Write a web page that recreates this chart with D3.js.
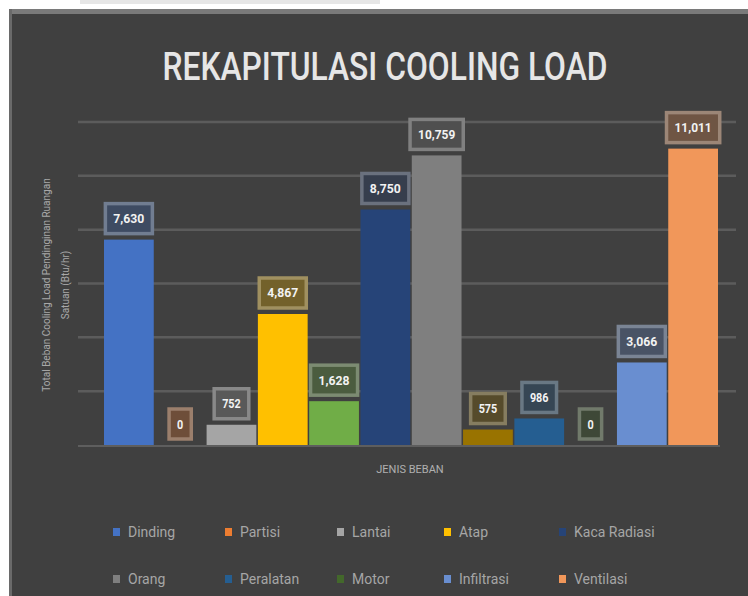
<!DOCTYPE html>
<html><head><meta charset="utf-8">
<script src="https://cdn.jsdelivr.net/npm/d3@7"></script>
<style>
html,body{margin:0;padding:0;background:#fff;}
svg{display:block;}
</style></head>
<body>
<svg id="chart" width="748" height="596"></svg>
<script>
// ---- data ----
const seriesNames = ["Dinding","Partisi","Lantai","Atap","Kaca Konduksi","Kaca Radiasi","Orang","Penerangan","Peralatan","Motor","Infiltrasi","Ventilasi"];
const seriesValues = [7630, 0, 752, 4867, 1628, 8750, 10759, 575, 986, 0, 3066, 11011];
const valueLabels = ["7,630","0","752","4,867","1,628","8,750","10,759","575","986","0","3,066","11,011"];
const seriesColors = ["#4472C4","#ED7D31","#A5A5A5","#FFC000","#70AD47","#264478","#7F7F7F","#997300","#255E91","#43682B","#698ED0","#F1975A"];
const legendNames = ["Dinding","Partisi","Lantai","Atap","Kaca Radiasi","Orang","Peralatan","Motor","Infiltrasi","Ventilasi"];
const yTicks = [0,2000,4000,6000,8000,10000,12000];
const titleText = "REKAPITULASI COOLING LOAD";
const xTitle = "JENIS BEBAN";
const yTitleLines = ["Total Beban Cooling Load Pendinginan Ruangan","Satuan (Btu/hr)"];

// ---- drawing ----
const svg = d3.select("#chart");
const bg = "#404040";
svg.append("rect").attr("x",10).attr("y",10).attr("width",738).attr("height",586).attr("fill",bg);
svg.append("rect").attr("x",10).attr("y",9).attr("width",738).attr("height",5).attr("fill","#7a7a7a");
svg.append("rect").attr("x",9).attr("y",9).attr("width",3).attr("height",587).attr("fill","#6a6a6a");
svg.append("rect").attr("x",80).attr("y",0).attr("width",300).attr("height",4).attr("fill","#e6e6e6");

const y = d3.scaleLinear().domain([0,12000]).range([445,122]);
const x = d3.scaleBand().domain(seriesNames).range([104,718]).paddingInner(0.03);
const colorOf = d3.scaleOrdinal().domain(seriesNames).range(seriesColors);

// gridlines
svg.append("g").selectAll("line").data(yTicks.slice(1)).join("line")
  .attr("x1",78).attr("x2",736)
  .attr("y1",d=>y(d)).attr("y2",d=>y(d))
  .attr("stroke","#5c5c5c").attr("stroke-width",2.5);

// title
svg.append("text").attr("x",385).attr("y",80).attr("text-anchor","middle")
  .attr("font-family","Roboto,'Liberation Sans',sans-serif").attr("font-weight",500)
  .attr("font-size",38).attr("fill","#e6e6e6")
  .attr("textLength",445).attr("lengthAdjust","spacingAndGlyphs")
  .text(titleText);

// bars
const data = seriesNames.map((n,i)=>({name:n,value:seriesValues[i],label:valueLabels[i]}));
svg.append("g").selectAll("rect").data(data).join("rect")
  .attr("x",d=>x(d.name)).attr("width",x.bandwidth())
  .attr("y",d=>y(d.value)).attr("height",d=>y(0)-y(d.value))
  .attr("fill",d=>colorOf(d.name));

// axis baseline
svg.append("line").attr("x1",78).attr("x2",720).attr("y1",y(0)+1).attr("y2",y(0)+1)
  .attr("stroke","#5e5e5e").attr("stroke-width",2);

// data label boxes
const lab = svg.append("g");
data.forEach(d=>{
  const cx = x(d.name)+x.bandwidth()/2;
  const c = colorOf(d.name);
  const tw = d.label.length*6.2;
  const w = Math.max(20, tw+16);
  const h = 30;
  const by = y(d.value)-6-h;
  lab.append("rect").attr("x",cx-w/2).attr("y",by).attr("width",w).attr("height",h)
    .attr("fill",d3.interpolateRgb("#3c3c3c",c)(0.28))
    .attr("stroke",d3.interpolateRgb("#808080",c)(0.25)).attr("stroke-width",3.5);
  lab.append("text").attr("x",cx).attr("y",by+h/2+4.5).attr("text-anchor","middle")
    .attr("font-family","Roboto,sans-serif")
    .attr("font-weight","bold").attr("font-size",12).attr("fill","#f2f2f2")
    .attr("textLength",tw).attr("lengthAdjust","spacingAndGlyphs")
    .text(d.label);
});

// axis titles
svg.append("text").attr("x",410).attr("y",473).attr("text-anchor","middle")
  .attr("font-family","Roboto,sans-serif").attr("font-size",11)
  .attr("fill","#b0b0b0").text(xTitle);
yTitleLines.forEach((t,i)=>{
  svg.append("text").attr("transform",`translate(${50+i*19},${i===0?285:285}) rotate(-90)`)
    .attr("text-anchor","middle")
    .attr("font-family","Roboto,sans-serif").attr("font-size",10)
    .attr("fill","#a8a8a8").text(t);
});

// legend
const legX = [113,225,337,444,559];
const legY = [534,581];
const lg = svg.append("g");
legendNames.forEach((n,i)=>{
  const col = i%5, row = Math.floor(i/5);
  const gx = legX[col], gy = legY[row];
  lg.append("rect").attr("x",gx).attr("y",gy-6).attr("width",7).attr("height",8).attr("fill",colorOf(n));
  lg.append("text").attr("x",gx+15).attr("y",gy+3)
    .attr("font-family","Roboto,'Liberation Sans',sans-serif").attr("font-size",14)
    .attr("fill","#a6a6a6").text(n);
});
</script>
</body></html>
